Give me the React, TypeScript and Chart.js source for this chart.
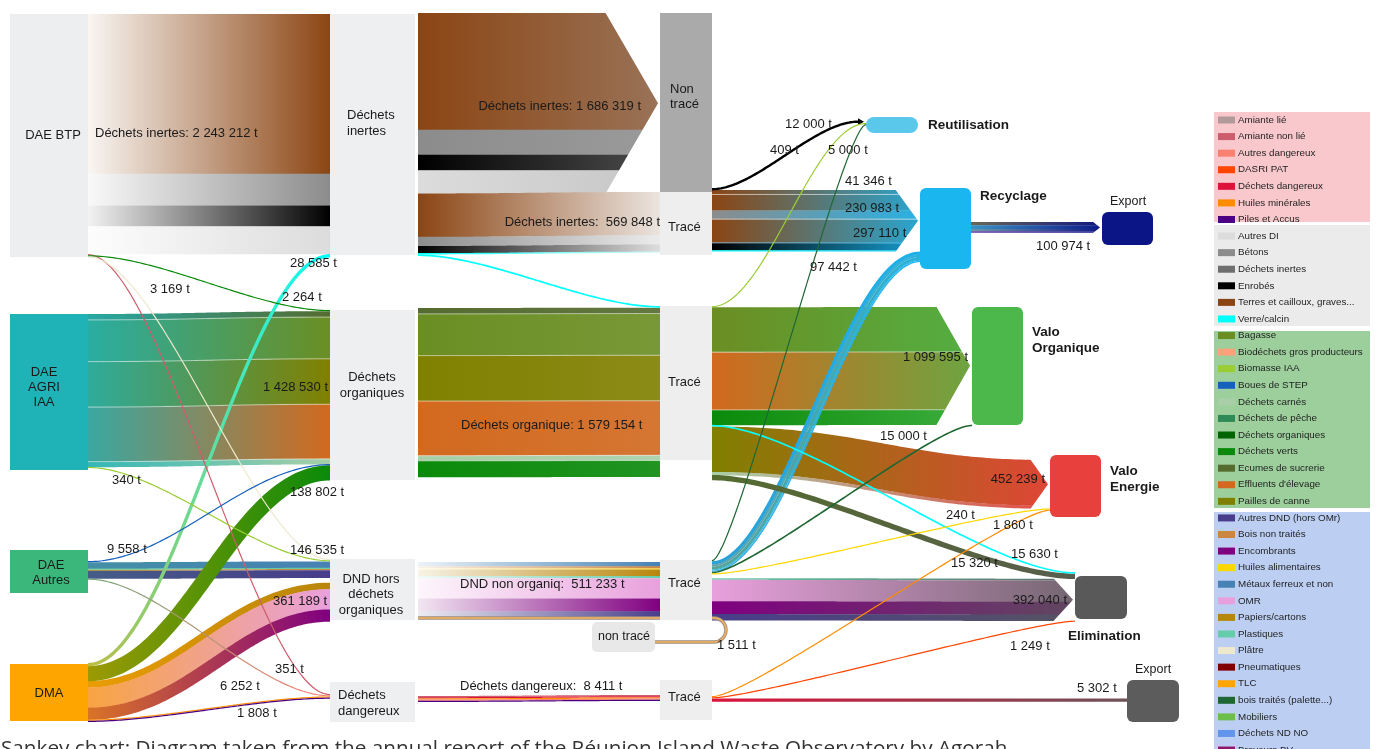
import React, { useEffect, useRef } from 'react';
import { Chart, registerables } from 'chart.js';

Chart.register(...registerables);

const W = 1378;
const H = 749;

// ---------------- DATA ----------------
const legendDangerous = ['Amiante lié', 'Amiante non lié', 'Autres dangereux', 'DASRI PAT', 'Déchets dangereux', 'Huiles minérales', 'Piles et Accus'];
const legendInert = ['Autres DI', 'Bétons', 'Déchets inertes', 'Enrobés', 'Terres et cailloux, graves...', 'Verre/calcin'];
const legendOrganic = ['Bagasse', 'Biodéchets gros producteurs', 'Biomasse IAA', 'Boues de STEP', 'Déchets carnés', 'Déchets de pêche', 'Déchets organiques', 'Déchets verts', 'Ecumes de sucrerie', "Effluents d'élevage", 'Pailles de canne'];
const legendNonDangerous = ['Autres DND (hors OMr)', 'Bois non traités', 'Encombrants', 'Huiles alimentaires', 'Métaux ferreux et non', 'OMR', 'Papiers/cartons', 'Plastiques', 'Plâtre', 'Pneumatiques', 'TLC', 'bois traités (palette...)', 'Mobiliers', 'Déchets ND NO', 'Broyeurs BV'];

const nodeKeys = ['btp', 'agri', 'autres', 'dma', 'inertes', 'organiques', 'dnd', 'dangereux', 'nonTrace', 'traceI', 'traceO', 'traceD', 'nonTraceD', 'traceH', 'reut', 'recyc', 'export1', 'valoO', 'valoE', 'elim', 'export2'];
const nodeNames = ['DAE BTP', 'DAE\nAGRI\nIAA', 'DAE\nAutres', 'DMA', 'Déchets\ninertes', 'Déchets\norganiques', 'DND hors\ndéchets\norganiques', 'Déchets\ndangereux', 'Non\ntracé', 'Tracé', 'Tracé', 'Tracé', 'non tracé', 'Tracé', 'Reutilisation', 'Recyclage', 'Export', 'Valo\nOrganique', 'Valo\nEnergie', 'Elimination', 'Export'];

const TERRES = 'Terres et cailloux, graves...';
const flowLinks: [string, string][] = [
  ['btp', 'inertes'], ['btp', 'dangereux'], ['btp', 'organiques'], ['btp', 'dnd'],
  ['agri', 'organiques'], ['agri', 'dnd'],
  ['autres', 'organiques'], ['autres', 'dnd'], ['autres', 'dangereux'],
  ['dma', 'inertes'], ['dma', 'organiques'], ['dma', 'dnd'], ['dma', 'dangereux'], ['dma', 'dangereux'],
  ['inertes', 'nonTrace'], ['inertes', 'traceI'], ['inertes', 'traceO'],
  ['organiques', 'traceO'],
  ['dnd', 'traceD'], ['dnd', 'nonTraceD'],
  ['dangereux', 'traceH'],
  ['nonTrace', 'reut'],
  ['traceI', 'recyc'], ['traceI', 'recyc'], ['traceI', 'recyc'],
  ['traceO', 'reut'], ['traceO', 'valoO'], ['traceO', 'elim'], ['traceO', 'valoE'], ['traceO', 'elim'],
  ['traceD', 'reut'], ['traceD', 'recyc'], ['traceD', 'valoO'], ['traceD', 'valoE'], ['traceD', 'elim'],
  ['traceH', 'valoE'], ['traceH', 'elim'], ['traceH', 'export2'],
  ['recyc', 'export1'],
];
const flowParts: [string, number][][] = [
  [[TERRES, 1493212], ['Bétons', 296000], ['Enrobés', 195000], ['Autres DI', 259000]],
  [['Amiante non lié', 3169]],
  [['Déchets verts', 2264]],
  [['Plâtre', 1200]],
  [['Ecumes de sucrerie', 55000], ['Bagasse', 390000], ['Pailles de canne', 425000], ["Effluents d'élevage", 510000], ['Déchets carnés', 48530]],
  [['Biomasse IAA', 340]],
  [['Boues de STEP', 9558]],
  [['Métaux ferreux et non', 60000], ['Plastiques', 10000], ['Bois non traités', 6535], ['Autres DND (hors OMr)', 70000]],
  [['Autres dangereux', 6252]],
  [['Verre/calcin', 28585]],
  [['Déchets verts', 138802]],
  [['Papiers/cartons', 60000], ['OMR', 190000], ['Encombrants', 111189]],
  [['Huiles minérales', 351]],
  [['Piles et Accus', 1808]],
  [[TERRES, 1090000], ['Bétons', 235000], ['Enrobés', 145000], ['Autres DI', 216319]],
  [[TERRES, 405000], ['Bétons', 86263], ['Enrobés', 65630], ['Verre/calcin', 12955]],
  [['Verre/calcin', 15630]],
  [['Ecumes de sucrerie', 55000], ['Bagasse', 390000], ['Pailles de canne', 425000], ["Effluents d'élevage", 510000], ['Déchets carnés', 48530], ['Déchets verts', 150624]],
  [['Métaux ferreux et non', 40000], ['Bois non traités', 20000], ['Huiles alimentaires', 5000], ['Papiers/cartons', 60000], ['Plastiques', 20000], ['OMR', 190000], ['Encombrants', 120000], ['Autres DND (hors OMr)', 56233]],
  [['Bois non traités', 1511]],
  [['Amiante non lié', 3169], ['Déchets dangereux', 2000], ['Huiles minérales', 351], ['Autres dangereux', 1083], ['Piles et Accus', 1808]],
  [['Enrobés', 12000]],
  [[TERRES, 41346]],
  [[TERRES, 150000], ['Bétons', 80983]],
  [[TERRES, 213245], ['Bétons', 5280], ['Enrobés', 65630], ['Verre/calcin', 12955]],
  [['Biomasse IAA', 409]],
  [['Bagasse', 420000], ["Effluents d'élevage", 540000], ['Déchets verts', 139595]],
  [['Verre/calcin', 15630]],
  [['Pailles de canne', 425000], ['Déchets carnés', 27239]],
  [['Ecumes de sucrerie', 15320]],
  [['bois traités (palette...)', 5000]],
  [['Métaux ferreux et non', 30000], ['Bois non traités', 20000], ['Papiers/cartons', 25000], ['Plastiques', 10000], ['Déchets ND NO', 12442]],
  [['bois traités (palette...)', 15000]],
  [['Huiles alimentaires', 240]],
  [['Plastiques', 15807], ['OMR', 200000], ['Encombrants', 120000], ['Autres DND (hors OMr)', 56233]],
  [['Huiles minérales', 1860]],
  [['DASRI PAT', 1249]],
  [['Déchets dangereux', 5302]],
  [[TERRES, 30000], ['Métaux ferreux et non', 35000], ['Bétons', 20974], ['Encombrants', 15000]],
];
const flowLabelPrefixes: (string | null)[] = [
  'Déchets inertes: ', '', '', null,
  '', '',
  '', '', '',
  '', '', '', '', '',
  'Déchets inertes: ', 'Déchets inertes:  ', null,
  'Déchets organique: ',
  'DND non organiq:  ', '',
  'Déchets dangereux:  ',
  '',
  '', '', '',
  '', '', '', '', '',
  '', '', '', '', '',
  '', '', '',
  '',
];
const captionText = 'Sankey chart: Diagram taken from the annual report of the Réunion Island Waste Observatory by Agorah';

// ---------------- STYLES / LAYOUT ----------------
const MAT_COLORS: Record<string, string> = {
  'Amiante lié': '#b39a9a', 'Amiante non lié': '#cd5c6c', 'Autres dangereux': '#fa8072', 'DASRI PAT': '#ff4500',
  'Déchets dangereux': '#dc143c', 'Huiles minérales': '#ff8c00', 'Piles et Accus': '#4b0082',
  'Autres DI': '#dcdcdc', 'Bétons': '#8c8c8c', 'Déchets inertes': '#6e6e6e', 'Enrobés': '#000000', [TERRES]: '#8b4513', 'Verre/calcin': '#00ffff',
  'Bagasse': '#6b8e23', 'Biodéchets gros producteurs': '#ffa07a', 'Biomasse IAA': '#9acd32', 'Boues de STEP': '#1560bd',
  'Déchets carnés': '#a8cfa8', 'Déchets de pêche': '#2e8b57', 'Déchets organiques': '#006400', 'Déchets verts': '#0a8a0a',
  'Ecumes de sucrerie': '#556b2f', "Effluents d'élevage": '#d2691e', 'Pailles de canne': '#808000',
  'Autres DND (hors OMr)': '#483d8b', 'Bois non traités': '#cd853f', 'Encombrants': '#800080', 'Huiles alimentaires': '#ffd700',
  'Métaux ferreux et non': '#4682b4', 'OMR': '#e8a0dc', 'Papiers/cartons': '#b8860b', 'Plastiques': '#66cdaa', 'Plâtre': '#eee8cd',
  'Pneumatiques': '#800000', 'TLC': '#ffa500', 'bois traités (palette...)': '#1e6632', 'Mobiliers': '#6cbf4c', 'Déchets ND NO': '#6495ed',
  'Broyeurs BV': '#8b1a6b',
};
const LEGEND_BG = ['#f8c8cc', '#ebebeb', '#9ccf9c', '#bccff3'];
const LEGEND_BOX: [number, number][] = [[112, 222], [225, 326], [331, 508], [512, 760]];

type NodeL = { x: number; y: number; w: number; h: number; fill: string; r?: number; inY?: number; outY?: number; outGap?: number; label: [number, number, CanvasTextAlign, number, boolean?]; lh?: number };
const LIGHT = '#eeeff1';
const NODE_LAYOUT: Record<string, NodeL> = {
  btp: { x: 10, y: 14, w: 78, h: 243, fill: '#eceef0', label: [53, 135, 'center', 13] },
  agri: { x: 10, y: 314, w: 78, h: 156, fill: '#1fb3b8', label: [44, 372, 'center', 13], lh: 15 },
  autres: { x: 10, y: 550, w: 78, h: 43, fill: '#3cb77b', outY: 561, label: [51, 565, 'center', 13], lh: 15 },
  dma: { x: 10, y: 664, w: 78, h: 57, fill: '#ffa500', outY: 663, label: [49, 693, 'center', 13] },
  inertes: { x: 330, y: 14, w: 85, h: 241, fill: LIGHT, outY: 13, outGap: 3, label: [347, 115, 'left', 13], lh: 16 },
  organiques: { x: 330, y: 310, w: 85, h: 170, fill: LIGHT, outY: 308, outGap: 3, label: [372, 377, 'center', 13], lh: 16 },
  dnd: { x: 330, y: 559, w: 85, h: 61, fill: LIGHT, inY: 559, outY: 562, outGap: 3, label: [371, 579, 'center', 13], lh: 15.5 },
  dangereux: { x: 330, y: 682, w: 85, h: 40, fill: LIGHT, inY: 694, outY: 696, outGap: 3, label: [338, 695, 'left', 13], lh: 16 },
  nonTrace: { x: 660, y: 13, w: 52, h: 179, fill: '#aaaaaa', outY: 188, label: [670, 89, 'left', 13], lh: 15 },
  traceI: { x: 660, y: 192, w: 52, h: 63, fill: '#eeeeee', outY: 190, label: [668, 227, 'left', 13] },
  traceO: { x: 660, y: 306, w: 52, h: 154, fill: '#eeeeee', label: [668, 382, 'left', 13] },
  traceD: { x: 660, y: 560, w: 52, h: 60, fill: '#eeeeee', inY: 562, label: [668, 583, 'left', 13] },
  nonTraceD: { x: 592, y: 622, w: 63, h: 30, r: 5, fill: '#e8e8e8', inY: 642, label: [624, 637, 'center', 12.5] },
  traceH: { x: 660, y: 680, w: 52, h: 40, fill: '#eeeeee', inY: 695, outY: 696, label: [668, 697, 'left', 13] },
  reut: { x: 866, y: 117, w: 52, h: 16, r: 8, fill: '#5ac8ea', inY: 120.5, label: [928, 125, 'left', 13.5, true] },
  recyc: { x: 920, y: 188, w: 51, h: 81, r: 6, fill: '#19b6f0', inY: 190, outY: 222, label: [980, 196, 'left', 13.5, true] },
  export1: { x: 1102, y: 212, w: 51, h: 33, r: 6, fill: '#0b1585', inY: 222, label: [1110, 202, 'left', 12.5] },
  valoO: { x: 972, y: 307, w: 51, h: 118, r: 6, fill: '#4cb84c', inY: 307, label: [1032, 332, 'left', 13.5, true], lh: 16 },
  valoE: { x: 1050, y: 455, w: 51, h: 62, r: 6, fill: '#e8403c', inY: 460, label: [1110, 471, 'left', 13.5, true], lh: 16 },
  elim: { x: 1075, y: 576, w: 52, h: 43, r: 6, fill: '#595959', inY: 572, label: [1068, 636, 'left', 13.5, true] },
  export2: { x: 1127, y: 680, w: 52, h: 42, r: 6, fill: '#5c5c5c', inY: 698.5, label: [1135, 670, 'left', 12.5] },
};

type FlowS = { label?: [number, number, CanvasTextAlign]; a?: number; ac?: string; b?: number; bc?: string; minW?: number; sGap?: number; tGap?: number; c?: number; loop?: number; sep?: boolean; sepTop?: boolean };
const FLOW_STYLE: FlowS[] = [
  { label: [95, 133, 'left'], a: 0.95, ac: '#ffffff' },
  { label: [150, 289, 'left'], c: 0.3 },
  { label: [282, 297, 'left'], c: 0.3 },
  { c: 0.3 },
  { label: [328, 387, 'right'], a: 0.85, sep: true },
  { label: [112, 480, 'left'], c: 0.3 },
  { label: [107, 549, 'left'], c: 0.35 },
  { label: [290, 550, 'left'], a: 0.25 },
  { label: [220, 686, 'left'], a: 0.7, c: 0.3 },
  { label: [290, 263, 'left'], a: 0.75, c: 0.35 },
  { label: [290, 492, 'left'], a: 0.6, c: 0.4 },
  { label: [273, 601, 'left'], a: 0.7, tGap: 5, c: 0.4 },
  { label: [275, 669, 'left'], c: 0.3 },
  { label: [237, 713, 'left'], c: 0.3 },
  { label: [641, 106, 'right'], b: 0.45 },
  { label: [660, 222, 'right'], b: 0.9, bc: '#f6f6f6' },
  { c: 0.3 },
  { label: [461, 425, 'left'], b: 0.1, sep: true },
  { label: [460, 584, 'left'], a: 0.9, ac: '#ffffff' },
  { label: [717, 645, 'left'], loop: 726 },
  { label: [460, 686, 'left'], minW: 1.2 },
  { label: [785, 124, 'left'], minW: 2.4, c: 0.3 },
  { label: [845, 181, 'left'], b: 0.85 },
  { label: [845, 208, 'left'], b: 0.85, sepTop: true },
  { label: [853, 233, 'left'], b: 0.85, sepTop: true },
  { label: [770, 150, 'left'], c: 0.35 },
  { label: [968, 357, 'right'], b: 0.75, sep: true },
  { label: [1011, 554, 'left'], c: 0.25 },
  { label: [1045, 479, 'right'], b: 0.9 },
  { label: [951, 563, 'left'], minW: 5, b: 0.7, c: 0.25 },
  { label: [828, 150, 'left'], c: 0.15 },
  { label: [810, 267, 'left'], a: 0.6, ac: '#19b6f0', b: 0.9, c: 0.35 },
  { label: [880, 436, 'left'], c: 0.15 },
  { label: [946, 515, 'left'], c: 0.15 },
  { label: [1067, 600, 'right'], b: 0.8, sGap: 3.6 },
  { label: [993, 525, 'left'], c: 0.12 },
  { label: [1010, 646, 'left'], c: 0.12 },
  { label: [1077, 688, 'left'], minW: 3, b: 0.85 },
  { label: [1036, 246, 'left'], a: 0.3, b: 0.95 },
];
const ARROW_GROUPS: { flows: number[]; head: number; small?: boolean }[] = [
  { flows: [14], head: 53 },
  { flows: [21], head: 6, small: true },
  { flows: [22, 23, 24], head: 23 },
  { flows: [26], head: 34 },
  { flows: [28], head: 18 },
  { flows: [34], head: 20 },
  { flows: [38], head: 8 },
];
const FONT = '"Liberation Sans", Arial, sans-serif';

// ---------------- helpers ----------------
function hexRgb(h: string): [number, number, number] {
  const n = parseInt(h.slice(1), 16);
  return [(n >> 16) & 255, (n >> 8) & 255, n & 255];
}
function mix(c1: string, c2: string, t: number): string {
  const a = hexRgb(c1), b = hexRgb(c2);
  const r = a.map((v, i) => Math.round(v * (1 - t) + b[i] * t));
  return `rgb(${r[0]},${r[1]},${r[2]})`;
}
const fmt = (v: number) => String(Math.round(v)).replace(/\B(?=(\d{3})+(?!\d))/g, ' ') + ' t';
function rrect(ctx: CanvasRenderingContext2D, x: number, y: number, w: number, h: number, r: number) {
  const rr = Math.min(r, w / 2, h / 2);
  ctx.beginPath();
  ctx.moveTo(x + rr, y);
  ctx.arcTo(x + w, y, x + w, y + h, rr);
  ctx.arcTo(x + w, y + h, x, y + h, rr);
  ctx.arcTo(x, y + h, x, y, rr);
  ctx.arcTo(x, y, x + w, y, rr);
  ctx.closePath();
}
// sample a horizontal-tangent cubic centre line, with unit normals
function sampleCurve(x0: number, m0: number, x1: number, m1: number, c: number, n = 90) {
  const cx0 = x0 + c * (x1 - x0), cx1 = x1 - c * (x1 - x0);
  const pts: { x: number; y: number; nx: number; ny: number }[] = [];
  for (let i = 0; i <= n; i++) {
    const t = i / n, u = 1 - t;
    const x = u * u * u * x0 + 3 * u * u * t * cx0 + 3 * u * t * t * cx1 + t * t * t * x1;
    const y = u * u * u * m0 + 3 * u * u * t * m0 + 3 * u * t * t * m1 + t * t * t * m1;
    let dx = 3 * u * u * (cx0 - x0) + 6 * u * t * (cx1 - cx0) + 3 * t * t * (x1 - cx1);
    let dy = 6 * u * t * (m1 - m0);
    const len = Math.hypot(dx, dy) || 1;
    dx /= len; dy /= len;
    pts.push({ x, y, nx: -dy, ny: dx });
  }
  return pts;
}

const sankeyPlugin = {
  id: 'sankeyDraw',
  afterDraw(chart: any) {
    const ctx: CanvasRenderingContext2D = chart.ctx;
    const sx = chart.scales.x, sy = chart.scales.y, sv = chart.scales.v;
    const X = (v: number) => sx.getPixelForValue(v);
    const Y = (v: number) => sy.getPixelForValue(v);
    const T = (t: number) => Math.abs(sv.getPixelForValue(t) - sv.getPixelForValue(0));
    const LEN = (d: number) => Math.abs(sy.getPixelForValue(d) - sy.getPixelForValue(0));
    ctx.save();
    ctx.fillStyle = '#ffffff';
    ctx.fillRect(X(0), Y(0), X(W) - X(0), Y(H) - Y(0));

    const arrowOf: Record<number, number> = {};
    ARROW_GROUPS.forEach((g, gi) => g.flows.forEach((f) => (arrowOf[f] = gi)));

    const outCur: Record<string, number> = {};
    const inCur: Record<string, number> = {};
    const geos = flowLinks.map(([s, t], i) => {
      const st = FLOW_STYLE[i] || {};
      const sn = NODE_LAYOUT[s], tn = NODE_LAYOUT[t];
      const minW = st.minW ?? 1.2;
      const ths = flowParts[i].map(([, v]) => Math.max(T(v), minW));
      const total = ths.reduce((a, b) => a + b, 0);
      if (outCur[s] === undefined) outCur[s] = Y(sn.outY ?? sn.y);
      if (inCur[t] === undefined) inCur[t] = Y(tn.inY ?? tn.y);
      outCur[s] += LEN(st.sGap ?? 0);
      inCur[t] += LEN(st.tGap ?? 0);
      const y0 = outCur[s], y1 = inCur[t];
      outCur[s] += total;
      inCur[t] += total;
      const hasArrow = arrowOf[i] !== undefined;
      const x0 = X(sn.x + sn.w + (sn.outGap ?? 0));
      const x1 = X(tn.x - (hasArrow ? 2 : 0));
      return { i, s, t, sn, tn, st, ths, total, y0, y1, x0, x1 };
    });

    const strokeOffset = (pts: ReturnType<typeof sampleCurve>, o: number) => {
      ctx.beginPath();
      pts.forEach((p, i) => {
        const px = p.x + p.nx * o, py = p.y + p.ny * o;
        if (i === 0) ctx.moveTo(px, py); else ctx.lineTo(px, py);
      });
    };

    const drawFlow = (g: (typeof geos)[number], xEnd: number) => {
      const { st, sn, tn, ths, x0, y0, y1, total } = g;
      const x1 = xEnd;
      const c = st.c ?? 0.45;
      const pts = sampleCurve(x0, y0 + total / 2, x1, y1 + total / 2, c);
      let cum = -total / 2;
      const bounds: number[] = [];
      flowParts[g.i].forEach(([mat], k) => {
        const th = ths[k];
        const mc = MAT_COLORS[mat] || '#888888';
        const left = mix(mc, st.ac ?? sn.fill, st.a ?? 0);
        const right = mix(mc, st.bc ?? tn.fill, st.b ?? 0);
        const grad = ctx.createLinearGradient(x0, 0, x1, 0);
        grad.addColorStop(0, left);
        grad.addColorStop(1, right);
        if (k > 0) bounds.push(cum);
        if (st.loop !== undefined) {
          const lx = X(st.loop);
          const ya = y0 + th / 2, yb = y1;
          const r = (yb - ya) / 2;
          const xt = X(tn.x + tn.w);
          ctx.beginPath();
          ctx.moveTo(x0, ya);
          ctx.lineTo(lx - r, ya);
          ctx.arc(lx - r, ya + r, r, -Math.PI / 2, Math.PI / 2, false);
          ctx.lineTo(xt, yb);
          ctx.lineWidth = 3.4;
          ctx.strokeStyle = '#9c8c84';
          ctx.stroke();
          ctx.lineWidth = 1.6;
          ctx.strokeStyle = '#f5b45a';
          ctx.stroke();
        } else if (th < 2.5) {
          strokeOffset(pts, cum + th / 2);
          ctx.lineWidth = th;
          ctx.lineJoin = 'round';
          ctx.strokeStyle = grad;
          ctx.stroke();
        } else {
          const oa = cum, ob = cum + th + 0.35;
          ctx.beginPath();
          pts.forEach((p, i) => {
            const px = p.x + p.nx * oa, py = p.y + p.ny * oa;
            if (i === 0) ctx.moveTo(px, py); else ctx.lineTo(px, py);
          });
          for (let i = pts.length - 1; i >= 0; i--) {
            const p = pts[i];
            ctx.lineTo(p.x + p.nx * ob, p.y + p.ny * ob);
          }
          ctx.closePath();
          ctx.fillStyle = grad;
          ctx.fill();
        }
        cum += th;
      });
      const seps = [...(st.sep ? bounds : []), ...(st.sepTop ? [-total / 2] : [])];
      seps.forEach((o) => {
        strokeOffset(pts, o);
        ctx.lineWidth = 1;
        ctx.strokeStyle = 'rgba(255,255,255,0.55)';
        ctx.stroke();
      });
    };

    type Unit = { flows: number[]; gi?: number; size: number };
    const units: Unit[] = [];
    ARROW_GROUPS.forEach((g, gi) => units.push({ flows: g.flows, gi, size: g.flows.reduce((a, f) => a + geos[f].total, 0) }));
    geos.forEach((g) => { if (arrowOf[g.i] === undefined) units.push({ flows: [g.i], size: g.total }); });
    units.sort((a, b) => b.size - a.size);

    units.forEach((u) => {
      if (u.gi === undefined) {
        drawFlow(geos[u.flows[0]], geos[u.flows[0]].x1);
        return;
      }
      const grp = ARROW_GROUPS[u.gi];
      const gs = u.flows.map((f) => geos[f]);
      const xt = gs[0].x1;
      const top = Math.min(...gs.map((g) => g.y1));
      const bot = Math.max(...gs.map((g) => g.y1 + g.total));
      const head = LEN(grp.head);
      if (grp.small) {
        gs.forEach((g) => drawFlow(g, xt - head));
        const mid = (top + bot) / 2;
        const mc = MAT_COLORS[flowParts[gs[0].i][0][0]];
        ctx.beginPath();
        ctx.moveTo(xt - head, mid - 3.5);
        ctx.lineTo(xt, mid);
        ctx.lineTo(xt - head, mid + 3.5);
        ctx.closePath();
        ctx.fillStyle = mc;
        ctx.fill();
        return;
      }
      ctx.save();
      ctx.beginPath();
      ctx.rect(0, 0, xt - head, H * 2);
      ctx.moveTo(xt - head, top - 1);
      ctx.lineTo(xt, (top + bot) / 2);
      ctx.lineTo(xt - head, bot + 1);
      ctx.closePath();
      ctx.clip();
      gs.forEach((g) => drawFlow(g, xt));
      ctx.restore();
    });

    // nodes
    nodeKeys.forEach((k) => {
      const n = NODE_LAYOUT[k];
      ctx.fillStyle = n.fill;
      const x = X(n.x), y = Y(n.y), w = X(n.x + n.w) - x, h = Y(n.y + n.h) - y;
      if (n.r) {
        rrect(ctx, x, y, w, h, n.r);
        ctx.fill();
      } else {
        ctx.fillRect(x, y, w, h);
      }
    });

    // node labels
    ctx.textBaseline = 'middle';
    nodeKeys.forEach((k, i) => {
      const n = NODE_LAYOUT[k];
      const [lx, ly, align, size, bold] = n.label;
      ctx.font = `${bold ? 'bold ' : ''}${size}px ${FONT}`;
      ctx.textAlign = align;
      ctx.fillStyle = '#1a1a1a';
      nodeNames[i].split('\n').forEach((line, j) => {
        ctx.fillText(line, X(lx), Y(ly + j * (n.lh ?? 16)));
      });
    });

    // flow labels
    ctx.font = `13px ${FONT}`;
    ctx.fillStyle = '#1a1a1a';
    geos.forEach((g) => {
      const pre = flowLabelPrefixes[g.i];
      const lab = g.st.label;
      if (pre === null || !lab) return;
      const total = flowParts[g.i].reduce((a, [, v]) => a + v, 0);
      ctx.textAlign = lab[2];
      ctx.fillText(pre + fmt(total), X(lab[0]), Y(lab[1]));
    });

    // legend
    const groups = [legendDangerous, legendInert, legendOrganic, legendNonDangerous];
    groups.forEach((_, gi) => {
      const [t0, t1] = LEGEND_BOX[gi];
      ctx.fillStyle = LEGEND_BG[gi];
      ctx.fillRect(X(1214), Y(t0), X(1370) - X(1214), Y(t1) - Y(t0));
    });
    ctx.font = `9.8px ${FONT}`;
    ctx.textAlign = 'left';
    let idx = 0;
    groups.forEach((items) => {
      items.forEach((name) => {
        const yy = 120 + idx * 16.58;
        ctx.fillStyle = MAT_COLORS[name] || '#888888';
        ctx.fillRect(X(1218), Y(yy - 3.5), X(1235) - X(1218), Y(yy + 3.5) - Y(yy - 3.5));
        ctx.fillStyle = '#1e1e1e';
        ctx.fillText(name, X(1238), Y(yy));
        idx++;
      });
    });

    // caption
    ctx.font = `20.7px "Open Sans", ${FONT}`;
    ctx.fillStyle = '#333333';
    ctx.textAlign = 'left';
    ctx.textBaseline = 'alphabetic';
    ctx.fillText(captionText, X(1), Y(755));
    ctx.restore();
  },
};

export default function App() {
  const ref = useRef<HTMLCanvasElement | null>(null);
  useEffect(() => {
    document.body.style.margin = '0';
    document.body.style.overflow = 'hidden';
    if (!ref.current) return;
    const chart = new Chart(ref.current, {
      type: 'scatter',
      data: { datasets: [{ data: [], pointRadius: 0 }] },
      options: {
        responsive: false,
        animation: false,
        events: [],
        layout: { padding: 0 },
        plugins: { legend: { display: false }, tooltip: { enabled: false } },
        scales: {
          x: { type: 'linear', min: 0, max: W, display: false },
          y: { type: 'linear', min: 0, max: H, reverse: true, display: false },
          v: { type: 'linear', axis: 'y', min: 0, max: 7000000, display: false },
        },
      } as any,
      plugins: [sankeyPlugin],
    });
    return () => chart.destroy();
  }, []);
  return (
    <div style={{ position: 'absolute', left: 0, top: 0, width: W, height: H, background: '#fff', overflow: 'hidden' }}>
      <canvas ref={ref} width={W} height={H} style={{ display: 'block', width: W, height: H }} />
    </div>
  );
}
